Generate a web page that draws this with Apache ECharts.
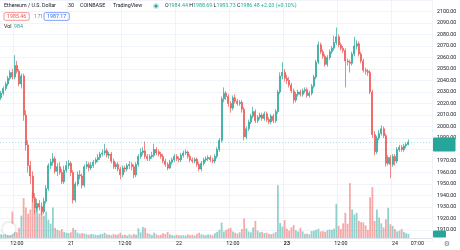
<!DOCTYPE html>
<html><head><meta charset="utf-8">
<script src="https://cdn.jsdelivr.net/npm/echarts@6/dist/echarts.min.js"></script>
<style>html,body{margin:0;padding:0;background:#fff}#c{width:460px;height:250px}</style>
</head><body><div id="c"></div>
<script>
// ---- data (30-minute candles, first candle = day 20 08:30) ----
const opens = [2025,2029,2033,2037,2042,2047,2043,2053,2048,2037,2044,2010,1984,1966,1957,1938,1929,1933,1930,1926,
1935,1946,1966,1969,1972,1961,1965,1960,1952,1962,1966,1968,1960,1936,1950,1958,1957,1949,1965,1967,
1964,1966,1969,1971,1973,1976,1977,1979,1975,1976,1970,1965,1967,1963,1958,1964,1963,1966,1967,1965,
1958,1967,1974,1977.5,1978.8,1974,1972,1974,1975,1980,1978,1976,1974,1970,1967,1964,1969,1971,1974,1972,
1971,1975,1977,1977.8,1974,1971,1970,1971.5,1967,1963,1968,1971,1972,1973,1971,1970,1974,1980,1988,2024,
2029,2026,2020,2016,2025,2022,2020,2021,2015,1991,1998,2004,2009,2013,2005,2008,2010,2007,2011,2006,
2004,2009,2005,2013,2030,2044,2047,2042,2040,2036,2031,2023,2028,2030,2028,2031,2032,2027,2029,2035,
2043,2056,2071,2065,2061,2054,2060,2065,2068,2073,2078,2071,2068,2066,2057,2056,2055,2063,2070,2072,
2063,2057,2049,2048,2047,2030,1993,1978,1990,1994,1998,1992,1968,1973,1967,1974,1970,1980,1982,1980,
1983,1984.44];
const closes = [2029,2033,2037,2042,2047,2043,2053,2048,2037,2044,2010,1984,1966,1957,1938,1929,1933,1930,1926,1935,
1946,1966,1969,1972,1961,1965,1960,1952,1962,1966,1968,1960,1936,1950,1958,1957,1949,1965,1967,1964,
1966,1969,1971,1973,1976,1977,1979,1975,1976,1970,1965,1967,1963,1958,1964,1963,1966,1967,1965,1958,
1967,1974,1977.5,1978.8,1974,1972,1974,1975,1980,1977,1976,1974,1970,1967,1964,1969,1971,1974,1972,1971,
1975,1977,1977.8,1974,1971,1970,1971.5,1967,1963,1968,1971,1972,1973,1971,1970,1974,1980,1988,2024,2029,
2026,2020,2016,2025,2022,2020,2021,2015,1991,1998,2004,2009,2013,2005,2008,2010,2007,2011,2006,2004,
2009,2005,2013,2030,2044,2047,2042,2040,2036,2031,2023,2028,2030,2028,2031,2032,2027,2029,2035,2043,
2056,2071,2065,2061,2054,2060,2065,2068,2073,2078,2071,2068,2066,2057,2056,2055,2063,2070,2072,2063,
2057,2049,2048,2047,2030,1993,1978,1990,1994,1998,1992,1968,1973,1967,1974,1970,1980,1982,1980,1983,
1984.44,1986.48];
const lows = [2023,2027,2031,2035,2040,2041,2041,2046,2035,2033,2005,1979,1960,1950,1934,1924,1926,1927,1923,1924,
1933,1944,1963,1966,1959,1957,1958,1950,1950,1960,1963,1957,1933,1934,1948,1954,1946,1947,1963,1961,
1962,1964,1967,1969,1971,1974,1975,1973,1972,1968,1963,1963,1961,1954,1956,1960,1961,1963,1962,1955,
1956,1965,1972,1975,1972,1970,1970,1972,1973,1975,1974,1972,1968,1965,1962,1963,1967,1969,1970,1969,
1969,1973,1975,1972,1969,1968,1968,1965,1961,1961,1966,1969,1970,1969,1968,1968,1972,1978,1986,2021,
2023,2017,2012,2014,2020,2018,2018,2012,1988,1989,1996,2002,2007,2003,2003,2006,2005,2005,2004,2002,
2002,2003,2003,2011,2028,2041,2039,2037,2034,2029,2020,2021,2026,2026,2026,2029,2025,2025,2027,2033,
2041,2054,2063,2059,2052,2052,2058,2063,2066,2071,2069,2066,2064,2034,2053,2047,2053,2061,2067,2061,
2055,2047,2045,2044,2028,1990,1975,1976,1988,1992,1990,1965,1966,1955,1965,1966,1968,1978,1978,1978,
1981,1983.73];
const highs = [2031,2035,2039,2044,2049,2050,2062,2057,2050,2046,2046,2014,1988,1970,1961,1942,1937,1936,1934,1938,
1949,1968,1972,1977,1974,1968,1969,1963,1966,1970,1971,1970,1962,1952,1961,1962,1959,1967,1970,1969,
1969,1971,1973,1976,1978,1980,1985,1981,1978,1978,1972,1969,1969,1965,1966,1966,1968,1970,1969,1967,
1969,1976,1981,1982,1987,1976,1976,1978,1985,1982,1980,1978,1976,1972,1969,1971,1973,1976,1976,1974,
1977,1979,1980,1979,1976,1973,1973,1973,1969,1970,1973,1974,1975,1975,1973,1976,1982,1990,2026,2034,
2031,2028,2022,2027,2028,2024,2023,2023,2017,2000,2006,2011,2017,2015,2010,2012,2012,2013,2013,2008,
2011,2011,2015,2032,2047,2056,2050,2045,2043,2038,2033,2030,2032,2032,2033,2034,2034,2031,2037,2045,
2058,2074,2073,2067,2063,2062,2067,2070,2079,2086,2080,2073,2070,2068,2059,2058,2065,2078,2075,2074,
2065,2059,2051,2050,2049,2032,1996,1992,1997,2001,2000,1994,1975,1975,1976,1976,1982,1984,1984,1985,
1986,1988.69];
const volumes = [900,800,1000,1100,1200,6500,1500,1400,2500,5500,9800,7500,6000,7000,11200,7000,7500,6000,8000,5500,
6500,4500,3500,7500,2500,2000,1800,2200,1500,1300,1200,1400,2500,2000,1300,1000,1200,1100,900,800,
1000,900,800,700,900,1000,1300,900,800,700,1000,800,900,1300,700,800,600,900,700,1000,
800,2400,1400,2700,2500,1200,1000,700,1300,900,700,800,1200,1000,1500,900,700,600,800,700,
600,700,600,900,700,800,600,1000,1300,900,800,700,900,800,700,1200,1500,2000,3800,1600,
2000,2300,2500,1600,1300,1100,1400,2200,4800,2400,1600,1400,2600,4200,1800,1400,1500,1200,1300,1000,
900,1100,1500,13000,3700,2800,4400,2300,1800,2600,3200,1900,1600,2500,1600,1000,1100,900,1700,1800,
2000,2300,1600,1700,1500,1900,2100,2000,2300,8400,3000,2200,3600,6200,3500,13500,7000,5800,6200,4200,
3900,3800,3100,2000,10000,12500,4200,7000,5000,3600,2600,4600,7400,3400,3000,2200,1600,1800,2200,1500,
1200,984];
const xTickIndex = [7,31,55,79,103,127,151,175,185];
const xTickText  = ['12:00','21','12:00','22','12:00','23','12:00','24','07:00'];
const slotCount = 192; // visible 30-minute slots incl. empty right margin

const categories = [];
for (let i = 0; i < slotCount; i++) {
  const m = 8*60 + 30 + 30*i;
  const d = 20 + Math.floor(m/1440), hm = m % 1440;
  categories.push(d + ' ' + String(Math.floor(hm/60)).padStart(2,'0') + ':' + String(hm%60).padStart(2,'0'));
}
const UP = '#26a69a', DOWN = '#ef5350';
const candleData = opens.map((o,i)=>[o, closes[i], lows[i], highs[i]]);
const volData = volumes.map((v,i)=>({value:v, itemStyle:{color: closes[i]>=opens[i] ? 'rgba(38,166,154,0.5)' : 'rgba(239,83,80,0.5)'}}));
const lastClose = closes[closes.length-1];
const lastVol = volumes[volumes.length-1];
const FONT = 'Roboto, "Noto Sans", sans-serif';

const chart = echarts.init(document.getElementById('c'), null, {renderer:'canvas'});
chart.setOption({
  animation:false,
  backgroundColor:'#ffffff',
  grid:[
    {left:0, right:28, top:-4.2, bottom:8.5},
    {left:0, right:28, bottom:12, height:61}
  ],
  xAxis:[
    {type:'category', data:categories, gridIndex:0, boundaryGap:true,
     axisLine:{show:false}, axisTick:{show:false}, axisLabel:{show:false},
     splitLine:{show:true, interval:(i)=>xTickIndex.slice(0,8).indexOf(i+1)>=0, lineStyle:{color:'#f0f3fa', width:1}}},
    {type:'category', data:categories, gridIndex:1, boundaryGap:true,
     axisLine:{show:true, lineStyle:{color:'#e0e3eb'}}, axisTick:{show:false}, splitLine:{show:false},
     axisLabel:{show:true, interval:(i)=>xTickIndex.indexOf(i)>=0, margin:3, fontSize:5.3, color:'#131722', fontFamily:FONT,
       formatter:(v,i)=>{const k=xTickIndex.indexOf(i); if(k<0) return ''; const t=xTickText[k]; return t==='23' ? '{b|'+t+'}' : t;},
       rich:{b:{fontWeight:'bold', fontSize:5.3, color:'#131722', fontFamily:FONT}}}}
  ],
  yAxis:[
    {type:'value', gridIndex:0, position:'right', min:1900, max:2110, interval:10, scale:true,
     axisLine:{show:false}, axisTick:{show:false},
     axisLabel:{margin:5, fontSize:5.3, color:'#131722', fontFamily:FONT,
       formatter:(v)=> (v===1900||v===2110||v===1980) ? '' : v.toFixed(2)},
     splitLine:{show:true, lineStyle:{color:'#f0f3fa', width:1}}},
    {type:'value', gridIndex:1, min:0, max:15000, show:false, splitLine:{show:false}}
  ],
  series:[
    {type:'bar', xAxisIndex:1, yAxisIndex:1, data:volData, barWidth:'80%', z:1, silent:true},
    {type:'candlestick', xAxisIndex:0, yAxisIndex:0, data:candleData, barWidth:'72%', z:3,
     itemStyle:{color:UP, color0:DOWN, borderColor:UP, borderColor0:DOWN, borderWidth:0.7},
     markLine:{silent:true, symbol:'none', label:{show:false},
       lineStyle:{color:UP, type:[1,2], width:0.8, opacity:0.45},
       data:[{yAxis:lastClose}]}}
  ]
});

const py = chart.convertToPixel({yAxisIndex:0}, lastClose);
const vy = chart.convertToPixel({yAxisIndex:1}, lastVol);
const txt = (x,y,text,opt)=>Object.assign({type:'text', x:x, y:y, z:20, style:Object.assign({text:text, fontSize:5.3, fontFamily:FONT, fill:'#131722', verticalAlign:'middle'}, opt||{})});
chart.setOption({graphic:[
  txt(4,6,'Ethereum / U.S. Dollar'),
  txt(68,6,'30'),
  txt(80,6,'COINBASE'),
  txt(113,6,'TradingView'),
  {type:'circle', z:20, shape:{cx:156, cy:6, r:3}, style:{fill:'rgba(38,166,154,0.25)'}},
  {type:'circle', z:21, shape:{cx:156, cy:6, r:1.6}, style:{fill:UP}},
  txt(165,6,'{l|O}{v|1984.44} {l|H}{v|1988.69} {l|L}{v|1983.73} {l|C}{v|1986.48} {v|+2.03 (+0.10%)}',
      {rich:{l:{fill:'#131722', fontSize:5.3, fontFamily:FONT}, v:{fill:UP, fontSize:5.3, fontFamily:FONT}}}),
  txt(4,16.5,'1985.46',{fill:DOWN, borderColor:DOWN, borderWidth:0.6, borderRadius:1.5, padding:[1.5,3,1.2,3]}),
  txt(34,16.5,'1.71',{fill:'#787b86', fontSize:4.6}),
  txt(44,16.5,'1987.17',{fill:'#2962ff', borderColor:'#2962ff', borderWidth:0.6, borderRadius:1.5, padding:[1.5,3,1.2,3]}),
  txt(4,27,'Vol'),
  txt(14,27,'984',{fill:UP}),
  // last price label
  {type:'rect', z:30, shape:{x:433, y:py-4.5, width:22.5, height:14, r:1}, style:{fill:UP}},
  txt(444.2, py+0.2, '1986.48', {fill:'#fff', align:'center', fontSize:5.1}),
  txt(444.2, py+6.2, '09:35', {fill:'#fff', align:'center', fontSize:5.1}),
  // last volume label
  {type:'rect', z:30, shape:{x:433, y:vy-3.5, width:13, height:7, r:1}, style:{fill:UP}},
  txt(439.5, vy, '984', {fill:'#fff', align:'center', fontSize:5.1}),
  // logo + settings
  {type:'circle', z:25, shape:{cx:9, cy:229, r:6.5}, style:{fill:'#fff', shadowBlur:3, shadowColor:'rgba(0,0,0,0.25)'}},
  txt(9,229.3,'TV',{align:'center', fontWeight:'bold', fontSize:6, fill:'#131722', fontFamily:'"DejaVu Sans", sans-serif'}),
  txt(447,244,'⚙',{align:'center', fontSize:7, fill:'#787b86', fontFamily:'"DejaVu Sans", sans-serif'})
]});
</script>
</body></html>
